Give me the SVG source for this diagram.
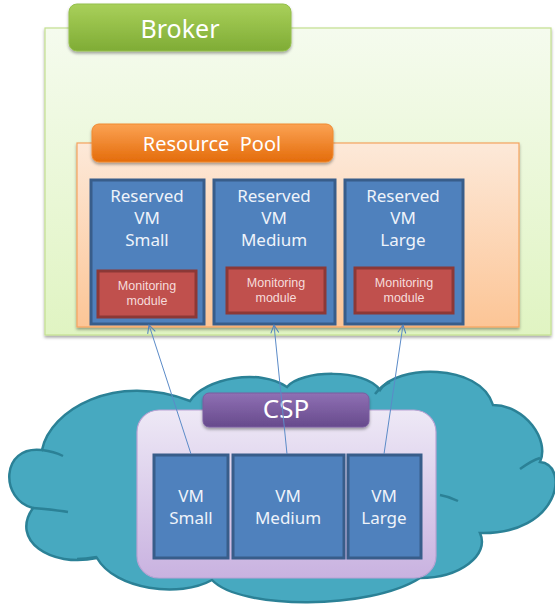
<svg xmlns="http://www.w3.org/2000/svg" width="555" height="604" viewBox="0 0 555 604">
<defs>
  <linearGradient id="gBroker" x1="0" y1="0" x2="0" y2="1">
    <stop offset="0" stop-color="#f5fbee"/>
    <stop offset="1" stop-color="#e0f4c2"/>
  </linearGradient>
  <linearGradient id="gGreen" x1="0" y1="0" x2="0" y2="1">
    <stop offset="0" stop-color="#a9d05a"/>
    <stop offset="1" stop-color="#7fac35"/>
  </linearGradient>
  <linearGradient id="gPool" x1="0" y1="0" x2="0" y2="1">
    <stop offset="0" stop-color="#fde9d9"/>
    <stop offset="1" stop-color="#fcc596"/>
  </linearGradient>
  <linearGradient id="gOrange" x1="0" y1="0" x2="0" y2="1">
    <stop offset="0" stop-color="#fba253"/>
    <stop offset="1" stop-color="#e46c0b"/>
  </linearGradient>
  <linearGradient id="gCsp" x1="0" y1="0" x2="0" y2="1">
    <stop offset="0" stop-color="#eee9f6"/>
    <stop offset="1" stop-color="#c9b2e0"/>
  </linearGradient>
  <linearGradient id="gPurple" x1="0" y1="0" x2="0" y2="1">
    <stop offset="0" stop-color="#8f70b4"/>
    <stop offset="1" stop-color="#674a8c"/>
  </linearGradient>
  <filter id="sh" x="-10%" y="-10%" width="120%" height="140%">
    <feDropShadow dx="0" dy="2" stdDeviation="1.5" flood-color="#000" flood-opacity="0.35"/>
  </filter>
  <marker id="arr" viewBox="0 0 10 10" refX="9" refY="5" markerWidth="10" markerHeight="10" orient="auto" markerUnits="userSpaceOnUse">
    <path d="M1,1 L9,5 L1,9" fill="none" stroke="#4f81bd" stroke-width="1"/>
  </marker>
</defs>
<style>
  text { font-family: "Noto Sans", "Open Sans", "Liberation Sans", sans-serif; text-anchor: middle; }
  .lbl { fill: #ffffff; }
  .vm { fill: #4f81bd; stroke: #385d8a; stroke-width: 3; }
  .vmt { fill: #eef3fa; font-size: 17px; }
  .mon { fill: #c0504d; stroke: #8c3836; stroke-width: 3; }
  .mont { fill: #f6dcdb; font-size: 12.5px; font-family: "Liberation Sans", "DejaVu Sans", sans-serif; }
  .inner { fill: none; stroke: #2b8196; stroke-width: 2.5; }
  .conn { fill: none; stroke: #5b8bc8; stroke-width: 1; marker-end: url(#arr); }
</style>

<g id="broker">
  <rect x="45" y="28" width="506" height="307" fill="url(#gBroker)" stroke="#c3df8f" stroke-width="1.2" filter="url(#sh)"/>
  <rect x="69" y="4" width="222" height="47" rx="8" fill="url(#gGreen)" stroke="#94bf4b" stroke-width="1" filter="url(#sh)"/>
  <text class="lbl" x="180" y="38" font-size="25">Broker</text>
</g>

<g id="resource-pool">
  <rect x="77" y="143" width="442" height="184" fill="url(#gPool)" stroke="#f6a35f" stroke-width="1.2" filter="url(#sh)"/>
  <rect x="92" y="124" width="241" height="38" rx="7" fill="url(#gOrange)" stroke="#f08a30" stroke-width="1" filter="url(#sh)"/>
  <text class="lbl" x="212" y="151" font-size="20" xml:space="preserve">Resource  Pool</text>
</g>

<g id="rvm-small">
  <rect class="vm" x="91" y="180" width="113" height="144"/>
  <text class="vmt" x="147" y="202">Reserved</text>
  <text class="vmt" x="147" y="224">VM</text>
  <text class="vmt" x="147" y="246">Small</text>
  <g id="mon-small">
    <rect class="mon" x="98" y="271" width="98" height="46"/>
    <text class="mont" x="147" y="290">Monitoring</text>
    <text class="mont" x="147" y="305">module</text>
  </g>
</g>

<g id="rvm-medium">
  <rect class="vm" x="214" y="180" width="121" height="144"/>
  <text class="vmt" x="274" y="202">Reserved</text>
  <text class="vmt" x="274" y="224">VM</text>
  <text class="vmt" x="274" y="246">Medium</text>
  <g id="mon-medium">
    <rect class="mon" x="227" y="268" width="98" height="45"/>
    <text class="mont" x="276" y="287">Monitoring</text>
    <text class="mont" x="276" y="302">module</text>
  </g>
</g>

<g id="rvm-large">
  <rect class="vm" x="345" y="180" width="118" height="144"/>
  <text class="vmt" x="403" y="202">Reserved</text>
  <text class="vmt" x="403" y="224">VM</text>
  <text class="vmt" x="403" y="246">Large</text>
  <g id="mon-large">
    <rect class="mon" x="355" y="268" width="98" height="45"/>
    <text class="mont" x="404" y="287">Monitoring</text>
    <text class="mont" x="404" y="302">module</text>
  </g>
</g>

<g id="cloud">
  <path d="M42,450 C50,410 115,372 190,401 C205,378 260,368 287,387 C300,370 365,368 380,390 C395,365 480,362 493,405 C525,405 550,440 540,462 C570,465 560,535 480,533 C490,555 460,578 420,578 C370,610 240,610 212,580 C180,598 115,590 97,558 C50,568 10,540 33,508 C0,500 0,445 42,450 Z" fill="#47a9c0" stroke="#2b8196" stroke-width="2.5"/>
  <path class="inner" d="M42,450 C50,451 57,453 63,456"/>
  <path class="inner" d="M33,508 C45,509 57,510 68,512"/>
  <path class="inner" d="M77,559 C84,559 91,558 97,557"/>
  <path class="inner" d="M375,394 C379,389 383,385 390,382"/>
  <path class="inner" d="M520,469 C527,464 533,460 540,458"/>
  <path class="inner" d="M440,495 C446,496 452,498 458,501"/>
</g>

<g id="csp">
  <rect x="137" y="410" width="299" height="168" rx="22" fill="url(#gCsp)" stroke="#b9a2d3" stroke-width="1.2"/>
  <rect x="203" y="393" width="166" height="34" rx="6" fill="url(#gPurple)" stroke="#7a5ca0" stroke-width="1" filter="url(#sh)"/>
  <text class="lbl" x="286" y="418" font-size="26">CSP</text>
</g>

<g id="vm-small">
  <rect class="vm" x="154" y="455" width="74" height="103"/>
  <text class="vmt" x="191" y="502">VM</text>
  <text class="vmt" x="191" y="524">Small</text>
</g>
<g id="vm-medium">
  <rect class="vm" x="233" y="455" width="111" height="103"/>
  <text class="vmt" x="288" y="502">VM</text>
  <text class="vmt" x="288" y="524">Medium</text>
</g>
<g id="vm-large">
  <rect class="vm" x="348" y="455" width="73" height="103"/>
  <text class="vmt" x="384" y="502">VM</text>
  <text class="vmt" x="384" y="524">Large</text>
</g>

<g id="connectors">
  <line class="conn" x1="191" y1="454" x2="149" y2="325"/>
  <line class="conn" x1="287" y1="454" x2="274" y2="325"/>
  <line class="conn" x1="384" y1="454" x2="403" y2="325"/>
</g>
</svg>
